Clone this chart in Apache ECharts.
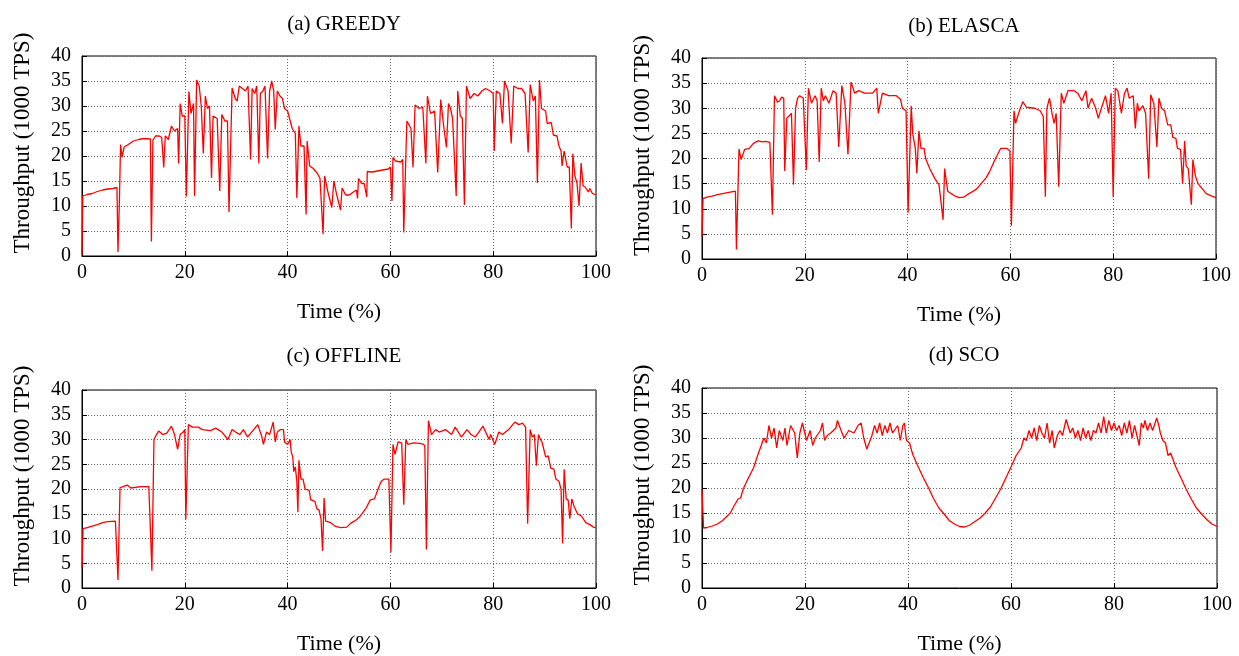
<!DOCTYPE html>
<html>
<head>
<meta charset="utf-8">
<script src="https://cdn.jsdelivr.net/npm/echarts@6/dist/echarts.min.js"></script>
<style>html,body{margin:0;padding:0;background:#fff}#c{width:1239px;height:656px}</style>
</head>
<body>
<div id="c"></div>
<script>
const titles = ['(a) GREEDY', '(b) ELASCA', '(c) OFFLINE', '(d) SCO'];
const xTicks = [0, 20, 40, 60, 80, 100];
const yTicks = [0, 5, 10, 15, 20, 25, 30, 35, 40];
const xName = 'Time (%)';
const yName = 'Throughput (1000 TPS)';

const greedy = [[0,0.3],[0.15,12],[0.5,12.2],[1,12.3],[2,12.5],[3,12.9],[4,13.2],[5,13.4],[6,13.5],[6.8,13.7],[7.0,0.8],[7.3,12],[7.5,22.3],[7.8,19.8],[8.2,21.8],[9,22.3],[10,23],[11,23.3],[12,23.5],[13.3,23.4],[13.5,2.9],[13.8,23.2],[14.3,24],[15,24],[15.5,23.7],[15.9,17.7],[16.2,24],[16.8,23.3],[17.4,26],[18,25],[18.6,25.5],[18.8,18.5],[19.1,30.5],[19.5,28],[20,28],[20.3,11.9],[20.8,32.9],[21.2,28.5],[21.7,30.5],[21.9,12],[22.3,35.2],[22.8,34],[23.2,30],[23.6,20.5],[24,32],[24.4,29.5],[24.8,30],[25.2,15.6],[25.5,28],[26.3,27.5],[26.8,13],[27.2,28.3],[27.8,27],[28.3,27],[28.6,8.8],[29.2,33.6],[29.8,31.5],[30.2,31],[30.6,34],[31.2,33.5],[31.8,33],[32.3,34],[32.8,19.3],[33.1,33.5],[33.6,32.5],[34,34],[34.4,18.5],[34.7,32.5],[35.2,33],[35.6,34],[36.1,19.5],[36.5,33],[36.9,35],[37.3,33],[37.6,25.3],[38,33],[38.5,32],[39,31.5],[39.4,29.5],[40,29],[40.5,27],[40.9,25.5],[41.5,24.5],[41.8,11.6],[42.2,26],[42.6,22],[43.2,22],[43.6,8.3],[43.8,23],[44.3,18],[45,17.5],[45.8,16.5],[46.3,15.5],[46.9,4.4],[47.2,16],[47.8,13],[48.6,9.7],[49,15],[49.5,12.5],[50.3,9.2],[50.6,13.6],[51.3,12.2],[52,12.2],[52.8,12.8],[53.4,13.2],[53.6,11.5],[53.8,15.5],[54.4,14.5],[54.9,14.5],[55.4,11.8],[55.5,16.9],[56.5,16.8],[57.5,17],[58.5,17.2],[59.6,17.4],[60,17.8],[60.3,11],[60.5,19.7],[61,19],[62,18.8],[62.4,19.3],[62.6,4.7],[63.2,27],[64,25.5],[64.4,17.7],[64.8,30.2],[65.6,29.5],[66.3,29.8],[66.9,18.5],[67.2,32],[67.8,28.5],[68.6,29],[69.2,16.7],[69.8,31.3],[70.3,26.5],[70.9,21.7],[71.3,30.5],[71.7,29.5],[72.1,27.5],[72.8,12],[73.1,33],[73.6,28],[74,27.5],[74.4,10.2],[74.8,34],[75.5,31.5],[76.3,32.5],[77,32],[77.8,33],[78.5,33.5],[79.4,33],[80,32.5],[80.2,21],[80.6,33],[81.3,32.5],[81.8,26.5],[82.2,35],[82.9,33],[83.5,22.5],[84,34],[84.8,33.5],[85.5,33.5],[86.2,32.5],[86.8,20.7],[87.2,34.3],[87.8,31],[88.2,32],[88.6,14.6],[89,35.2],[89.4,29.5],[90.2,29],[90.5,26.5],[91.3,26.7],[91.7,24.2],[92.4,24],[92.8,22],[93.2,21],[93.4,18],[93.8,21],[94.4,17.8],[94.8,17.8],[95.2,5.5],[95.5,20.5],[95.9,16],[96.3,14.6],[96.7,10],[97.1,18.6],[97.5,14],[97.9,13.8],[98.5,12.8],[98.8,13.5],[99.3,12.5],[100,12.2]];

const elasca = [[0,4.5],[0.2,12],[1,12.3],[2,12.5],[3,12.8],[4,13],[5,13.2],[6,13.4],[6.5,13.5],[6.7,1.9],[7.2,21.9],[7.6,19.8],[8.3,21.8],[9.2,22],[10,23],[10.9,23.5],[11.7,23.3],[12.4,23.4],[13.2,23.2],[13.7,8.8],[14.1,32.5],[14.7,31.2],[15.1,31.5],[15.5,32.2],[15.9,32],[16.1,17.5],[16.5,28],[17,28.5],[17.4,29],[17.8,14.8],[18.2,30],[18.6,32],[19,32.5],[19.7,32],[20.3,17.7],[20.7,34],[21.3,31],[22,32.5],[22.4,31.5],[22.8,19.3],[23.2,34],[23.6,31.5],[24,32.5],[24.7,31],[25.5,33.5],[26.1,33],[26.6,22.3],[27.2,34.5],[27.8,31],[28.4,20.8],[29,35.2],[29.7,33],[30.5,33.5],[31.6,33],[33.2,33],[34,34],[34.3,29],[35.1,33],[36.3,32.5],[37.8,32.5],[38.6,31.8],[39,30],[39.7,29.5],[40.1,9.2],[40.7,30.5],[41,25],[41.5,22],[41.8,17],[42.2,25.5],[42.6,22],[43.2,22],[43.5,20],[44.3,18],[45.3,16],[46.1,14.8],[46.9,7.8],[47.2,18],[47.8,13.5],[48.5,13],[49.3,12.5],[50,12.2],[50.9,12.3],[51.6,12.8],[52.8,13.5],[53.5,14],[54.3,15],[55.3,16.2],[56,17.5],[57,19.8],[58.1,22],[59.3,22],[59.9,21.5],[60.2,6.6],[60.7,29.5],[61,27],[61.6,29],[62.4,31.3],[63.1,30.2],[64.7,30],[65.8,29.5],[66.4,28.3],[66.8,12.4],[67.1,30],[67.6,32],[68.1,29],[68.5,27],[68.9,29],[69.4,14.4],[69.9,33],[70.4,31],[71.2,33.5],[72.4,33.5],[73.1,33],[73.9,31.5],[74.7,33.5],[75.1,30],[75.8,32],[76.6,30],[77.1,28],[77.7,30],[78.5,32.5],[79.1,29],[79.6,33],[80,12.3],[80.4,34],[80.9,33.5],[81.6,29],[82.2,33],[82.7,34],[83.1,32],[83.9,32.5],[84.3,26],[84.7,31],[85,29.5],[85.8,30.5],[86.3,29],[86.9,16],[87.3,32.7],[87.9,31],[88.5,22.3],[88.9,32],[89.4,30],[90,29.5],[90.6,26.7],[91.2,26.7],[91.6,24.2],[92.2,24],[92.5,22],[93.1,21.8],[93.5,15],[93.9,23.5],[94.2,18.5],[94.6,18],[95.2,10.8],[95.5,19.8],[96,16.5],[96.5,15],[97.3,14],[98.1,13],[99.2,12.5],[100,12.2]];

const offline = [[0,4],[0.2,12],[1,12.2],[2,12.5],[3,12.8],[4,13.2],[5,13.4],[6.5,13.5],[7,1.6],[7.4,20.3],[8,20.5],[8.8,20.8],[9.5,20.2],[10.7,20.4],[11.8,20.5],[13,20.5],[13.6,3.5],[14,30],[14.5,31],[14.9,31.7],[15.7,31],[16.5,31.3],[17.4,32.7],[18,31],[18.6,28],[19.1,31],[19.7,31.5],[20,32],[20.2,13.9],[20.7,33],[21.5,32.5],[22.6,32.5],[23.4,32],[25,31.8],[26,32.3],[27.2,31.5],[28.4,30],[29.2,32],[29.9,31.5],[30.7,31],[31.4,32],[32.2,30.5],[33,31.5],[33.8,32.5],[34.2,33],[35,30.5],[35.3,29],[35.9,31.5],[36.5,31],[37.2,33.5],[37.6,29.5],[38,31.5],[38.6,32],[39.2,32],[39.4,29.5],[40,29],[40.5,30],[40.7,27.5],[41,26.5],[41.2,23.5],[41.5,24.5],[41.8,21.5],[42,15.3],[42.2,25.8],[42.6,22],[43,22],[43.4,20],[44.2,19.7],[44.5,17.8],[45.3,17.5],[45.7,16],[46.1,15.8],[46.5,14],[46.8,7.5],[47.1,18.2],[47.4,13.5],[48.4,13.2],[49.2,12.5],[50.3,12.2],[51.5,12.3],[52.2,13],[53.4,13.8],[54.2,14.6],[55.3,16.2],[56.1,17.8],[56.9,18],[57.6,20],[58.2,21.5],[58.8,22],[59.7,22],[60.1,7.2],[60.5,29],[60.9,27],[61.5,29.5],[62.2,29.3],[62.6,16.8],[63,30],[63.4,29],[64.5,29.3],[65.7,29.2],[66.5,29],[66.7,28.5],[67,7.8],[67.4,33.8],[68,31],[68.8,32],[69.5,31.5],[70.7,32],[71.9,31],[72.6,32.5],[73.8,30.5],[74.9,32],[75.7,31],[76.5,30.5],[77.2,31.5],[78,32.7],[79.2,30],[79.5,31],[80.3,29],[81.1,31.5],[81.8,31],[83,32],[84.2,33.5],[85,33],[85.7,33.3],[86.3,32.5],[86.7,13],[87.2,32],[87.6,30.5],[88,31],[88.4,24.7],[88.8,31],[89.2,30],[89.5,29.5],[90.2,26.5],[90.7,26.7],[91.2,24.2],[91.8,24],[92.2,22],[92.8,21.5],[93.2,20],[93.5,9],[93.8,24],[94.2,18],[94.6,17.7],[94.9,14],[95.3,18],[95.8,16.3],[96.4,15],[97.2,14.5],[98,13.2],[98.8,12.8],[99.5,12.3],[100,12.2]];

const sco = [[0,19.7],[0.3,12],[1,12.1],[2,12.4],[3,12.8],[4,13.5],[5,14.5],[5.5,15],[6,16],[7,17.8],[7.5,18],[8,19.8],[9,22],[10,24],[10.8,26.5],[11.5,28.5],[12,30],[12.5,29],[13,32.5],[13.5,30],[14,32],[14.5,28],[15,31.5],[15.7,29.5],[16.1,32],[16.5,28.5],[17.2,32.5],[18,31],[18.5,26],[19,31],[19.5,33],[20.3,29.5],[21,31.5],[21.5,28.5],[22,30],[23,31.5],[23.4,33],[23.8,29.5],[24.3,30.5],[25,31],[26,32],[26.3,33.5],[27,31.5],[27.6,30],[28.5,31.5],[29.5,31],[30.3,32.5],[30.9,33],[31.4,30],[32,27.8],[33,30.5],[33.5,32.5],[34,31],[34.5,33],[35,30.5],[35.5,32.5],[36,31],[36.5,33],[37,31],[38,32.5],[38.5,29.5],[39,32.5],[39.3,33],[39.7,29.5],[40.3,29],[40.7,27.5],[41,26.5],[42,24.2],[43,22],[44,20],[45,17.8],[46,16],[47,14.8],[48,13.5],[49,12.8],[50,12.3],[51,12.2],[52,12.6],[53,13.3],[54,14],[55,15],[56,16.2],[57,18],[58,19.8],[59,22],[60,24.2],[61,26.5],[62,28],[62.5,30],[63,29.5],[63.5,31.5],[64,30],[64.5,32],[65,29.5],[65.5,32.5],[66,31],[66.5,30],[67,33],[67.5,29],[68,31.5],[68.4,28],[69,30.5],[69.5,31.5],[70,30.5],[70.7,33.7],[71.5,31],[72,32],[72.5,30],[73,31.5],[73.5,29.5],[74,32],[74.5,30],[75,31.5],[75.5,29.5],[76,31.5],[76.5,31],[77,33],[77.5,31],[78,34.3],[78.5,31],[79,33.5],[79.5,31.5],[80,33],[80.5,31.5],[81,32.5],[81.5,30.5],[82,33],[82.5,31],[83,33.5],[83.5,30],[84,32.5],[84.9,28.5],[85.3,33],[85.7,32],[86,33.5],[86.5,31.5],[87,33],[87.5,31.5],[88.3,34],[88.7,32.5],[89,31],[89.5,29.5],[90,29],[90.5,26.5],[91,27],[92,24.2],[93,22],[94,19.8],[95,17.8],[96,16],[97,14.8],[98,13.7],[99,12.8],[100,12.3]];

const seriesData = [greedy, elasca, offline, sco];
const grids = [
  {left: 82, top: 56, width: 514, height: 200},
  {left: 702, top: 58, width: 514, height: 201},
  {left: 82, top: 390, width: 514, height: 200},
  {left: 702, top: 388, width: 515, height: 200}
];
const titlePos = [[339, 9], [959, 11], [339, 341], [959, 340]];
const FONT = '"Liberation Serif", "DejaVu Serif", serif';

const option = {
  animation: false,
  backgroundColor: '#fff',
  title: titles.map((t, i) => ({
    text: t, left: titlePos[i][0], top: titlePos[i][1], textAlign: 'center',
    textStyle: {fontFamily: FONT, fontSize: 21, fontWeight: 'normal', color: '#000'}
  })),
  grid: grids.map(g => Object.assign({show: true, borderColor: '#000', borderWidth: 1, backgroundColor: 'transparent'}, g)),
  xAxis: grids.map((g, i) => ({
    type: 'value', gridIndex: i, min: xTicks[0], max: xTicks[xTicks.length - 1], interval: 20,
    name: xName, nameLocation: 'middle', nameGap: 45,
    nameTextStyle: {fontFamily: FONT, fontSize: 22, color: '#000'},
    axisLine: {show: true, lineStyle: {color: '#000', width: 1}},
    axisTick: {show: true, inside: true, length: 5, lineStyle: {color: '#000'}},
    axisLabel: {fontFamily: FONT, fontSize: 20, color: '#000', margin: 7},
    splitLine: {show: true, lineStyle: {color: '#666', type: [1, 2], width: 1}}
  })),
  yAxis: grids.map((g, i) => ({
    type: 'value', gridIndex: i, min: yTicks[0], max: yTicks[yTicks.length - 1], interval: 5,
    name: yName, nameLocation: 'middle', nameGap: 48,
    nameTextStyle: {fontFamily: FONT, fontSize: 23, color: '#000', padding: [0, 0, 0, 26]},
    axisLine: {show: true, lineStyle: {color: '#000', width: 1}},
    axisTick: {show: true, inside: true, length: 5, lineStyle: {color: '#000'}},
    axisLabel: {fontFamily: FONT, fontSize: 20, color: '#000', margin: 11},
    splitLine: {show: true, lineStyle: {color: '#666', type: [1, 2], width: 1}}
  })),
  series: seriesData.map((d, i) => ({
    type: 'line', xAxisIndex: i, yAxisIndex: i, data: d,
    showSymbol: false, symbol: 'none',
    lineStyle: {color: '#ff0000', width: 1.3},
    itemStyle: {color: '#ff0000'}
  }))
};
const chart = echarts.init(document.getElementById('c'), null, {renderer: 'canvas'});
chart.setOption(option);
</script>
</body>
</html>
